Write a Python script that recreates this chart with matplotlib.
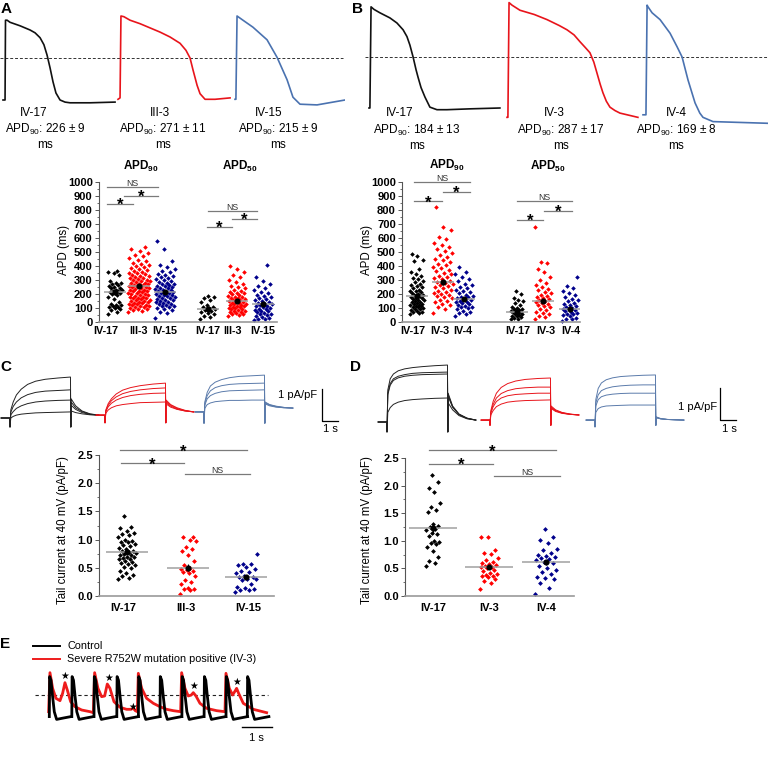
import matplotlib
matplotlib.use("Agg")
import matplotlib.pyplot as plt
from matplotlib.lines import Line2D
import numpy as np

plt.rcParams['font.family'] = ['Liberation Sans', 'DejaVu Sans']
plt.rcParams['mathtext.fontset'] = 'custom'
plt.rcParams['mathtext.rm'] = 'Liberation Sans'
plt.rcParams['mathtext.bf'] = 'Liberation Sans:bold'

# ---------------- data ----------------
# action potentials (ms, mV), panel A
ap_a_t = [[0, 9, 11, 18, 31, 75, 119, 141, 163, 180, 194, 207, 220, 233, 251, 273, 295, 383, 493],
          [0, 9, 13, 26, 53, 97, 141, 185, 229, 273, 299, 317, 330, 348, 361, 383, 427, 493],
          [0, 4, 9, 22, 35, 79, 141, 185, 229, 255, 286, 361, 484]]
ap_a_v = [[-80, -80, 34, 34, 31, 26, 20, 16, 9, -1, -16, -34, -54, -70, -80, -83, -84, -84, -83],
          [-79, -77, 40, 39, 34, 29, 23, 17, 10, 1, -9, -20, -37, -59, -71, -79, -79, -77],
          [-79, -79, 40, 37, 34, 24, 6, -19, -51, -76, -86, -87, -80]]
ap_a_names = ['IV-17', 'III-3', 'IV-15']
ap_a_apd = ['226 ± 9', '271 ± 11', '215 ± 9']

# panel B
ap_b_t = [[0, 4, 9, 22, 48, 92, 123, 150, 167, 180, 194, 207, 216, 229, 246, 268, 299, 343, 444, 576],
          [0, 4, 9, 22, 57, 120, 176, 230, 264, 295, 321, 345, 365, 382, 396, 410, 422, 437, 453, 475, 497, 576],
          [0, 13, 18, 22, 40, 75, 119, 150, 172, 198, 229, 250, 264, 308, 550]]
ap_b_v = [[-80, -80, 39, 36, 32, 26, 20, 12, 4, -6, -20, -35, -44, -56, -67, -79, -82, -82, -81, -80],
          [-91, -91, 44, 41, 35, 30, 24, 17, 12, 6, -2, -9, -15, -26, -39, -52, -62, -72, -79, -83, -86, -91],
          [-88, -88, 41, 39, 32, 24, 8, -8, -20, -47, -74, -86, -91, -96, -98]]
ap_b_names = ['IV-17', 'IV-3', 'IV-4']
ap_b_apd = ['184 ± 13', '287 ± 17', '169 ± 8']
trace_colors = ['#111111', '#e8141b', '#4a72b0']

# APD scatter values (ms)
a90_iv17 = [58, 72, 85, 92, 98, 104, 108, 112, 118, 125, 132, 140, 162, 178, 190, 198, 204, 208,
            212, 218, 222, 228, 232, 240, 246, 252, 258, 264, 270, 276, 282, 290, 338, 350, 358, 366]
a90_iii3 = [70, 78, 83, 91, 95, 98, 104, 108, 111, 116, 119, 122, 127, 129, 134, 137, 140, 146, 148,
            152, 157, 159, 163, 168, 170, 174, 179, 181, 186, 190, 193, 198, 201, 205, 209, 212, 218,
            220, 224, 229, 231, 236, 240, 243, 247, 252, 255, 258, 262, 266, 270, 273, 278, 281, 285,
            290, 293, 298, 302, 307, 311, 316, 320, 326, 331, 335, 342, 347, 353, 358, 364, 371, 377,
            384, 392, 398, 407, 415, 424, 433, 442, 455, 468, 481, 495, 508, 522, 535]
a90_iv15 = [30, 62, 75, 84, 92, 98, 105, 111, 116, 121, 127, 132, 137, 141, 146, 151, 155, 160, 165,
            169, 174, 178, 183, 187, 191, 196, 200, 204, 209, 213, 217, 222, 226, 231, 235, 240, 245,
            249, 254, 259, 264, 269, 275, 280, 286, 292, 298, 305, 312, 320, 328, 337, 346, 356, 367,
            378, 392, 410, 435, 520, 578]
a50_iv17 = [20, 35, 45, 55, 62, 70, 78, 85, 92, 98, 104, 110, 118, 140, 160, 172, 182, 186]
a50_iii3 = [42, 48, 55, 60, 65, 70, 74, 78, 82, 86, 90, 94, 97, 101, 105, 108, 112, 116, 120, 124,
            128, 131, 135, 139, 143, 147, 151, 155, 159, 163, 168, 172, 177, 182, 187, 192, 198, 204,
            210, 217, 224, 232, 240, 250, 260, 272, 285, 300, 318, 338, 360, 382, 400]
a50_iv15 = [12, 18, 25, 32, 38, 44, 50, 55, 60, 66, 71, 76, 81, 86, 91, 96, 101, 106, 111, 116, 121,
            127, 132, 138, 144, 150, 156, 163, 170, 178, 186, 195, 205, 216, 228, 242, 258, 275, 295,
            320, 408]
b90_iv17 = [55, 62, 68, 74, 80, 85, 90, 95, 100, 104, 108, 112, 116, 120, 124, 128, 132, 136, 140,
            145, 150, 155, 160, 165, 170, 175, 180, 185, 190, 195, 200, 206, 212, 218, 225, 232, 240,
            248, 256, 265, 275, 285, 295, 305, 315, 328, 340, 360, 380, 435, 440, 470, 485]
b90_iv3 = [65, 90, 105, 120, 130, 140, 150, 160, 168, 176, 184, 192, 200, 208, 216, 224, 232, 240,
           248, 256, 264, 272, 280, 288, 296, 305, 314, 323, 332, 342, 352, 362, 372, 383, 394, 405,
           416, 428, 440, 452, 465, 478, 492, 505, 520, 535, 550, 565, 590, 605, 660, 680, 820]
b90_iv4 = [45, 55, 65, 75, 82, 90, 97, 104, 110, 116, 122, 128, 134, 140, 146, 152, 158, 164, 170,
           176, 182, 189, 196, 204, 212, 220, 230, 240, 250, 262, 275, 290, 305, 320, 340, 360, 390]
b50_iv17 = [20, 25, 30, 35, 40, 45, 50, 55, 60, 64, 68, 72, 76, 80, 85, 90, 95, 100, 110, 120, 135,
            150, 160, 175, 200, 220]
b50_iv3 = [25, 35, 45, 55, 65, 75, 85, 95, 105, 112, 120, 127, 134, 141, 148, 155, 162, 170, 178,
           186, 195, 205, 215, 226, 238, 250, 265, 280, 300, 320, 360, 380, 425, 430, 680]
b50_iv4 = [10, 18, 25, 32, 40, 47, 54, 60, 66, 72, 78, 84, 90, 96, 102, 108, 115, 122, 130, 138,
           147, 156, 166, 177, 190, 205, 222, 240, 255, 320]
apd_a = [a90_iv17, a90_iii3, a90_iv15, a50_iv17, a50_iii3, a50_iv15]
apd_b = [b90_iv17, b90_iv3, b90_iv4, b50_iv17, b50_iv3, b50_iv4]
apd_a_mean = [215, 258, 215, 90, 150, 130]
apd_a_sem = [15, 8, 9, 12, 6, 7]
apd_b_mean = [185, 283, 165, 72, 150, 93]
apd_b_sem = [13, 17, 8, 9, 12, 8]
apd_a_labels = ['IV-17', 'III-3', 'IV-15', 'IV-17', 'III-3', 'IV-15']
apd_b_labels = ['IV-17', 'IV-3', 'IV-4', 'IV-17', 'IV-3', 'IV-4']

# current traces: time relative to step onset (s) and values (pA/pF)
step_t = [-0.55, -0.02, 0.0, 0.05, 0.2, 0.4, 0.7, 1.1, 1.6, 2.2, 3.0, 3.78, 3.8, 3.82, 4.1, 4.5, 5.0, 5.55]
cur_c = [
    [[0, 0, -0.28, 0.25, 0.5, 0.72, 0.9, 1.05, 1.15, 1.21, 1.25, 1.28, -0.28, 0.6, 0.38, 0.22, 0.13, 0.09],
     [0, 0, -0.28, 0.18, 0.36, 0.5, 0.63, 0.73, 0.8, 0.84, 0.86, 0.88, -0.28, 0.5, 0.32, 0.2, 0.12, 0.09],
     [0, 0, -0.28, 0.1, 0.2, 0.3, 0.38, 0.45, 0.5, 0.53, 0.55, 0.56, -0.28, 0.4, 0.27, 0.17, 0.11, 0.09],
     [0, 0, -0.28, 0.0, 0.05, 0.09, 0.12, 0.14, 0.16, 0.17, 0.18, 0.19, -0.28, 0.22, 0.17, 0.13, 0.1, 0.09]],
    [[0.09, 0.09, -0.15, 0.25, 0.45, 0.6, 0.75, 0.87, 0.95, 1.01, 1.06, 1.09, -0.15, 0.56, 0.42, 0.32, 0.24, 0.19],
     [0.09, 0.09, -0.15, 0.22, 0.4, 0.54, 0.66, 0.76, 0.83, 0.88, 0.92, 0.94, -0.15, 0.52, 0.4, 0.3, 0.23, 0.19],
     [0.09, 0.09, -0.15, 0.2, 0.35, 0.46, 0.56, 0.64, 0.7, 0.74, 0.77, 0.78, -0.15, 0.48, 0.37, 0.28, 0.22, 0.19],
     [0.09, 0.09, -0.15, 0.15, 0.25, 0.32, 0.38, 0.42, 0.45, 0.48, 0.49, 0.5, -0.15, 0.44, 0.34, 0.27, 0.22, 0.19]],
    [[0.19, 0.19, -0.16, 0.5, 0.8, 1.0, 1.12, 1.2, 1.26, 1.3, 1.32, 1.34, -0.16, 0.5, 0.42, 0.37, 0.33, 0.31],
     [0.19, 0.19, -0.16, 0.45, 0.7, 0.85, 0.95, 1.01, 1.05, 1.07, 1.08, 1.09, -0.16, 0.48, 0.41, 0.36, 0.33, 0.31],
     [0.19, 0.19, -0.16, 0.4, 0.6, 0.7, 0.77, 0.82, 0.85, 0.86, 0.87, 0.88, -0.16, 0.46, 0.4, 0.35, 0.32, 0.31],
     [0.19, 0.19, -0.16, 0.3, 0.42, 0.47, 0.51, 0.53, 0.55, 0.55, 0.56, 0.56, -0.16, 0.44, 0.38, 0.34, 0.32, 0.31]]]
cur_d = [
    [[0, 0, -0.31, 1.0, 1.35, 1.5, 1.6, 1.66, 1.7, 1.73, 1.76, 1.78, -0.31, 0.9, 0.5, 0.25, 0.12, 0.06],
     [0, 0, -0.31, 0.9, 1.2, 1.35, 1.43, 1.48, 1.52, 1.54, 1.55, 1.56, -0.31, 0.85, 0.48, 0.24, 0.12, 0.06],
     [0, 0, -0.31, 0.85, 1.15, 1.3, 1.38, 1.43, 1.46, 1.48, 1.49, 1.5, -0.31, 0.8, 0.46, 0.23, 0.11, 0.06],
     [0, 0, -0.31, 0.3, 0.45, 0.55, 0.62, 0.67, 0.7, 0.72, 0.74, 0.75, -0.31, 0.6, 0.38, 0.2, 0.1, 0.06]],
    [[0.06, 0.06, -0.1, 0.35, 0.65, 0.9, 1.08, 1.2, 1.28, 1.33, 1.36, 1.375, -0.1, 0.5, 0.38, 0.3, 0.25, 0.22],
     [0.06, 0.06, -0.1, 0.3, 0.55, 0.75, 0.89, 0.98, 1.04, 1.07, 1.09, 1.09, -0.1, 0.47, 0.36, 0.29, 0.24, 0.22],
     [0.06, 0.06, -0.1, 0.28, 0.48, 0.64, 0.75, 0.82, 0.86, 0.88, 0.9, 0.9, -0.1, 0.45, 0.35, 0.28, 0.24, 0.22],
     [0.06, 0.06, -0.1, 0.22, 0.36, 0.48, 0.56, 0.62, 0.65, 0.67, 0.68, 0.69, -0.1, 0.42, 0.33, 0.27, 0.24, 0.22]],
    [[0.06, 0.06, -0.15, 0.7, 1.05, 1.22, 1.32, 1.38, 1.42, 1.44, 1.46, 1.47, -0.1, 0.16, 0.11, 0.08, 0.07, 0.06],
     [0.06, 0.06, -0.15, 0.6, 0.85, 0.98, 1.05, 1.1, 1.13, 1.15, 1.16, 1.16, -0.1, 0.15, 0.1, 0.08, 0.07, 0.06],
     [0.06, 0.06, -0.15, 0.5, 0.7, 0.79, 0.84, 0.87, 0.89, 0.9, 0.9, 0.9, -0.1, 0.14, 0.1, 0.08, 0.07, 0.06],
     [0.06, 0.06, -0.15, 0.3, 0.42, 0.47, 0.5, 0.51, 0.52, 0.53, 0.53, 0.53, -0.1, 0.13, 0.1, 0.08, 0.07, 0.06]]]
cur_colors = ['#222222', '#e8141b', '#5b7bab']

# tail currents (pA/pF)
tail_c_iv17 = [1.42, 1.22, 1.2, 1.16, 1.12, 1.1, 1.08, 1.05, 1.0, 0.98, 0.95, 0.95, 0.92, 0.9, 0.88,
               0.85, 0.83, 0.8, 0.8, 0.78, 0.76, 0.75, 0.73, 0.72, 0.7, 0.7, 0.68, 0.66, 0.65, 0.62,
               0.6, 0.58, 0.56, 0.55, 0.52, 0.5, 0.45, 0.4, 0.38, 0.35, 0.32, 0.3]
tail_c_iii3 = [1.05, 1.04, 1.0, 0.98, 0.86, 0.84, 0.8, 0.72, 0.62, 0.55, 0.5, 0.48, 0.46, 0.45, 0.42,
               0.4, 0.35, 0.28, 0.25, 0.22, 0.15, 0.13, 0.12, 0.1, 0.03]
tail_c_iv15 = [0.74, 0.57, 0.56, 0.55, 0.52, 0.48, 0.44, 0.43, 0.4, 0.36, 0.34, 0.33, 0.31, 0.3, 0.28,
               0.22, 0.16, 0.14, 0.12, 0.11, 0.1, 0.07]
tail_d_iv17 = [2.2, 2.07, 1.96, 1.88, 1.69, 1.62, 1.55, 1.52, 1.31, 1.27, 1.25, 1.22, 1.2, 1.15, 1.13,
               1.08, 1.0, 0.98, 0.96, 0.95, 0.88, 0.81, 0.7, 0.64, 0.6, 0.55]
tail_d_iv3 = [1.07, 1.07, 0.84, 0.78, 0.76, 0.68, 0.65, 0.62, 0.6, 0.58, 0.56, 0.55, 0.53, 0.52, 0.5,
              0.48, 0.45, 0.42, 0.4, 0.38, 0.37, 0.36, 0.35, 0.3, 0.27, 0.23, 0.12]
tail_d_iv4 = [1.21, 1.06, 1.01, 0.96, 0.86, 0.83, 0.78, 0.75, 0.72, 0.7, 0.69, 0.67, 0.65, 0.62, 0.6,
              0.55, 0.5, 0.48, 0.44, 0.4, 0.35, 0.33, 0.3, 0.23, 0.15, 0.04]
tail_c_mean = [0.78, 0.50, 0.34]
tail_c_sem = [0.04, 0.06, 0.04]
tail_d_mean = [1.23, 0.53, 0.61]
tail_d_sem = [0.10, 0.04, 0.05]

# panel E: control AP shape (s, mV), onset times (s), mutant trace
ctrl_shape_t = [0, 0.01, 0.056, 0.11, 0.167, 0.244, 0.44, 0.72]
ctrl_shape_v = [-74, 26, 17, -24, -62, -81, -78, -74]
ctrl_onsets = [0, 0.75, 1.49, 2.25, 2.97, 3.69, 4.42, 5.16, 5.89, 6.6]
mut_t = [-0.022, 0.022, 0.111, 0.222, 0.356, 0.444, 0.522, 0.6, 0.711, 0.856, 1.078, 1.356, 1.467,
         1.511, 1.622, 1.744, 1.844, 1.933, 2.022, 2.156, 2.356, 2.578, 2.722, 2.8, 2.867, 2.933,
         2.967, 3.078, 3.244, 3.467, 3.689, 3.911, 4.133, 4.378, 4.411, 4.522, 4.633, 4.733, 4.8,
         4.889, 5.022, 5.244, 5.578, 5.856, 5.889, 6.0, 6.111, 6.2, 6.244, 6.311, 6.467, 6.8, 7.244]
mut_v = [-61.7, 35.8, -3.3, -28.3, -34.2, -15.8, 10.8, -7.5, -36.7, -49.2, -57.5, -61.7, -64.2,
         35.8, -3.3, -24.2, -22.5, 7.5, -3.3, -36.7, -50.8, -55.8, -55.8, -53.3, -59.2, -61.7,
         34.2, -3.3, -28.3, -40.8, -49.2, -55.8, -59.2, -61.7, 35.8, -3.3, -22.5, -20, -14.2,
         -22.5, -40.8, -53.3, -59.2, -61.7, 34.2, -3.3, -20, -9.2, -3.3, -15.8, -40.8, -55.8, -64.2]
ead_t = [0.52, 1.97, 2.78, 4.8, 6.24]
ead_v = [27.5, 21.7, -50.8, 2.5, 13.3]

# ---------------- figure ----------------
W, H = 768, 762
fig = plt.figure(figsize=(W / 100, H / 100), dpi=100)


def add_ax(x0, y0, x1, y1):
    # pixel box, origin at the top left
    return fig.add_axes([x0 / W, 1 - y1 / H, (x1 - x0) / W, (y1 - y0) / H])


def ftext(x, y, s, **kw):
    fig.text(x / W, 1 - y / H, s, **kw)


def panel_letter(x, y, s):
    ftext(x, y, s, fontsize=11, fontweight='bold', ha='left', va='center')


# --- AP traces, A and B ---
def ap_row(box, t_list, v_list, offsets, xspan, ylim, dash_end):
    ax = add_ax(*box)
    ax.axis('off')
    ax.set_xlim(0, xspan)
    ax.set_ylim(*ylim)
    ax.plot([0, dash_end], [-20, -20], color='#333333', lw=0.7, dashes=(3, 2))
    for t, v, off, c in zip(t_list, v_list, offsets, trace_colors):
        ax.plot(np.array(t) + off, v, color=c, lw=1.2, solid_joinstyle='round')
    return ax


ap_row((0, 0, 345, 120), ap_a_t, ap_a_v, [13.2, 519.2, 1034], 345 * 4.4,
       (-20 - 62 / 0.7, -20 + 58 / 0.7), 343 * 4.4)
ap_row((365, 0, 768, 130), ap_b_t, ap_b_v, [17.6, 624.8, 1223.2], 403 * 4.4,
       (-20 - 73 / 0.85, -20 + 57 / 0.85), 403 * 4.4)

for name, apd, xn, xa in zip(ap_a_names, ap_a_apd, [34, 160, 269], [45, 163, 278]):
    ftext(xn, 113, name, fontsize=8.5, ha='center', va='center')
    ftext(xa, 129, 'APD$_{\\mathregular{90}}$: ' + apd, fontsize=8.5, ha='center', va='center')
    ftext(xa, 145, 'ms', fontsize=8.5, ha='center', va='center')
for name, apd, xn, xa in zip(ap_b_names, ap_b_apd, [400, 554, 676], [417, 561, 676]):
    ftext(xn, 113, name, fontsize=8.5, ha='center', va='center')
    ftext(xa, 130, 'APD$_{\\mathregular{90}}$: ' + apd, fontsize=8.5, ha='center', va='center')
    ftext(xa, 146, 'ms', fontsize=8.5, ha='center', va='center')


# --- scatter helpers ---
def style_scatter_ax(ax):
    for side in ['top', 'right']:
        ax.spines[side].set_visible(False)
    ax.spines['left'].set_color('#555555')
    ax.spines['left'].set_linewidth(0.8)
    ax.spines['bottom'].set_color('#999999')
    ax.spines['bottom'].set_linewidth(1.2)
    ax.tick_params(axis='y', length=3, width=0.7, color='#555555', pad=1.5)
    ax.tick_params(axis='y', which='minor', length=1.8, width=0.6, color='#555555')
    ax.tick_params(axis='x', length=0, pad=3)


def scatter_group(ax, pos, vals, color, width, mean, sem, half, size):
    vals = np.sort(vals)
    frac = (np.arange(len(vals)) * 0.6180339887) % 1.0
    ax.scatter(pos + (frac - 0.5) * width, vals, s=size, marker='D', color=color,
               linewidths=0, zorder=2, clip_on=False)
    ax.hlines(mean, pos - half, pos + half, color='#a0a0a0', lw=1.1, zorder=3)
    ax.errorbar(pos, mean, yerr=sem, fmt='o', color='black', ms=3.4, elinewidth=0.8,
                capsize=0, zorder=4)


def sig(ax, x0, x1, y, label):
    ax.plot([x0, x1], [y, y], color='#7a7a7a', lw=0.9, clip_on=False)
    if label == '*':
        ax.annotate('*', ((x0 + x1) / 2, y), xytext=(0, -4.5), textcoords='offset points',
                    ha='center', va='baseline', fontsize=12, fontweight='bold', annotation_clip=False)
    else:
        ax.annotate(label, ((x0 + x1) / 2, y), xytext=(0, -0.8), textcoords='offset points',
                    ha='center', va='bottom', fontsize=6.3, color='#333333', annotation_clip=False)


sc_colors = ['#000000', '#ff0000', '#00008b']

# --- APD scatter, A and B ---
def apd_panel(box, xlim, pos, widths, ticks, labels, groups, means, sems, sigs):
    ax = add_ax(*box)
    style_scatter_ax(ax)
    ax.set_xlim(*xlim)
    ax.set_ylim(0, 1000)
    ax.set_yticks(np.arange(0, 1001, 100))
    ax.set_yticks(np.arange(50, 1000, 100), minor=True)
    ax.set_xticks(ticks)
    ax.set_xticklabels(labels)
    for lab in ax.get_yticklabels():
        lab.set_fontsize(8)
        lab.set_fontweight('bold')
    for lab in ax.get_xticklabels():
        lab.set_fontsize(7.8)
        lab.set_fontweight('bold')
    for i in range(6):
        scatter_group(ax, pos[i], groups[i], sc_colors[i % 3], widths[i], means[i], sems[i], 11, 5.5)
    for s in sigs:
        sig(ax, *s)
    return ax


apd_panel((99, 182, 277, 322), (99, 277), [115, 139, 165, 208, 237, 263],
          [14, 22, 20, 16, 18, 18], [106, 139, 165, 208, 233, 263], apd_a_labels,
          apd_a, apd_a_mean, apd_a_sem,
          [(107, 133, 843, '*'), (124, 158, 900, '*'), (107, 158, 964, 'NS'),
           (207, 232, 679, '*'), (232, 257, 736, '*'), (208, 257, 793, 'NS')])
apd_panel((402, 182, 580, 322), (402, 580), [417, 443, 464, 517, 543, 570],
          [14, 20, 18, 12, 16, 16], [413, 440, 463, 518, 546, 571], apd_b_labels,
          apd_b, apd_b_mean, apd_b_sem,
          [(414, 442, 864, '*'), (443, 470, 929, '*'), (414, 470, 1000, 'NS'),
           (517, 543, 729, '*'), (544, 572, 793, '*'), (517, 572, 864, 'NS')])

for x, y, s in [(141, 166, 'APD$_{\\mathregular{90}}$'), (240, 166, 'APD$_{\\mathregular{50}}$'),
                (447, 165, 'APD$_{\\mathregular{90}}$'), (548, 166, 'APD$_{\\mathregular{50}}$')]:
    ftext(x, y, s, fontsize=8.5, fontweight='bold', ha='center', va='center')
ftext(64, 250, 'APD (ms)', fontsize=8.3, rotation=90, ha='center', va='center')
ftext(367, 250, 'APD (ms)', fontsize=8.3, rotation=90, ha='center', va='center')


# --- current traces, C and D ---
def current_row(box, xlim, ylim, onsets, groups, bar_x, bar_y):
    ax = add_ax(*box)
    ax.axis('off')
    ax.set_xlim(*xlim)
    ax.set_ylim(*ylim)
    for onset, traces, c in zip(onsets, groups, cur_colors):
        for tr in traces:
            ax.plot(np.array(step_t) + onset, tr, color=c, lw=0.7)
    ax.plot([bar_x, bar_x, bar_x + 1], [bar_y + 1, bar_y, bar_y], color='black', lw=0.9)
    return ax


current_row((0, 355, 345, 440), (0, 345 / 16), ((418 - 440) / 32, (418 - 355) / 32),
            [0.625, 6.5625, 12.75], cur_c, 322 / 16, (418 - 421) / 32)
current_row((372, 355, 768, 440), ((372 - 380) / 16, (768 - 380) / 16),
            ((422 - 440) / 32, (422 - 355) / 32), [0.4375, 6.875, 13.4375], cur_d,
            (720 - 380) / 16, (422 - 420) / 32)
ftext(317, 395, '1 pA/pF', fontsize=8, ha='right', va='center')
ftext(330, 429, '1 s', fontsize=8, ha='center', va='center')
ftext(717, 407, '1 pA/pF', fontsize=8, ha='right', va='center')
ftext(729, 429, '1 s', fontsize=8, ha='center', va='center')


# --- tail current scatter, C and D ---
def tail_panel(box, xlim, pos, widths, ticks, labels, groups, means, sems, half, sigs):
    ax = add_ax(*box)
    style_scatter_ax(ax)
    ax.set_xlim(*xlim)
    ax.set_ylim(0, 2.5)
    ax.set_yticks(np.arange(0, 2.51, 0.5))
    ax.set_yticklabels(['%.1f' % v for v in np.arange(0, 2.51, 0.5)])
    ax.set_yticks(np.arange(0.25, 2.5, 0.5), minor=True)
    ax.set_xticks(ticks)
    ax.set_xticklabels(labels)
    ax.tick_params(axis='x', pad=5)
    for lab in ax.get_xticklabels() + ax.get_yticklabels():
        lab.set_fontsize(8)
        lab.set_fontweight('bold')
    for i in range(3):
        scatter_group(ax, pos[i], groups[i], sc_colors[i], widths[i], means[i], sems[i], half, 6)
    for s in sigs:
        sig(ax, *s)
    return ax


tail_panel((99, 455, 274, 596), (99, 274), [127, 188, 246], [18, 16, 22], [123, 186, 248],
           ['IV-17', 'III-3', 'IV-15'], [tail_c_iv17, tail_c_iii3, tail_c_iv15],
           tail_c_mean, tail_c_sem, 21,
           [(120, 247, 2.58, '*'), (121, 184, 2.35, '*'), (185, 250, 2.16, 'NS')])
tail_panel((405, 458, 574, 596), (405, 574), [433, 489, 546], [14, 18, 22], [433, 489, 546],
           ['IV-17', 'IV-3', 'IV-4'], [tail_d_iv17, tail_d_iv3, tail_d_iv4],
           tail_d_mean, tail_d_sem, 24,
           [(429, 556, 2.64, '*'), (429, 493, 2.40, '*'), (494, 560, 2.18, 'NS')])
ftext(63, 530, 'Tail current at 40 mV (pA/pF)', fontsize=8.3, rotation=90, ha='center', va='center')
ftext(367, 530, 'Tail current at 40 mV (pA/pF)', fontsize=8.3, rotation=90, ha='center', va='center')

# --- panel E ---
axE = add_ax(30, 668, 282, 745)
axE.axis('off')
axE.set_xlim((30 - 49.3) / 30, (282 - 49.3) / 30)
axE.set_ylim(-20 - 50 / 0.4, -20 + 27 / 0.4)
axE.plot([(35 - 49.3) / 30, (268 - 49.3) / 30], [-20, -20], color='#222222', lw=0.8, dashes=(3, 2.5), zorder=1)
axE.plot(mut_t, mut_v, color='#ee1c1c', lw=2.0, zorder=2, solid_joinstyle='round')
for on in ctrl_onsets:
    axE.plot(np.array(ctrl_shape_t) + on, ctrl_shape_v, color='black', lw=2.0, zorder=3,
             solid_joinstyle='round')
for t, v in zip(ead_t, ead_v):
    axE.text(t, v, '★', family='DejaVu Sans', fontsize=7, ha='center', va='center', zorder=4)
axE.plot([(242 - 49.3) / 30, (272 - 49.3) / 30], [-100, -100], color='black', lw=1.0)
ftext(256, 738, '1 s', fontsize=8, ha='center', va='center')

fig.add_artist(Line2D([33 / W, 60 / W], [1 - 646 / H, 1 - 646 / H], color='black', lw=1.4))
fig.add_artist(Line2D([33 / W, 60 / W], [1 - 659 / H, 1 - 659 / H], color='#ee1c1c', lw=1.4))
ftext(67, 646, 'Control', fontsize=7.8, ha='left', va='center')
ftext(67, 659, 'Severe R752W mutation positive (IV-3)', fontsize=7.8, ha='left', va='center')

panel_letter(1, 9, 'A')
panel_letter(352, 9, 'B')
panel_letter(0, 367, 'C')
panel_letter(350, 367, 'D')
panel_letter(0, 644, 'E')

fig.savefig('out.png', dpi=100)
